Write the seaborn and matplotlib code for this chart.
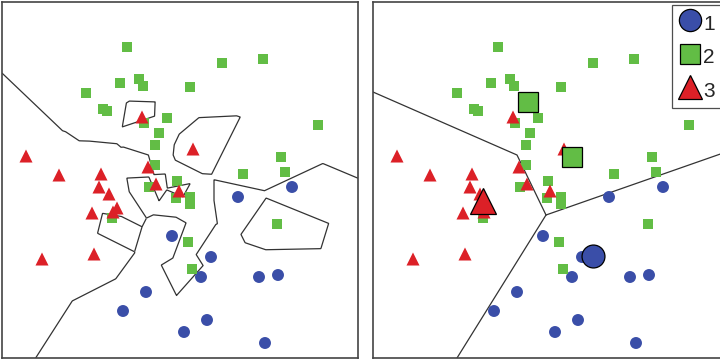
import numpy as np
import pandas as pd
import matplotlib
matplotlib.use("Agg")
import matplotlib.pyplot as plt
from matplotlib.lines import Line2D
import seaborn as sns

# Training samples in the 2-D feature plane (unitless, 0..356 on both axes;
# one class-1 sample lies just right of the visible window)
class1_x = [290, 236, 170, 209, 199, 257, 276, 144, 121, 205, 182, 263, 369]
class1_y = [171, 161, 122, 101, 81, 81, 83, 66, 47, 38, 26, 15, 105]

class2_x = [125, 220, 261, 118, 137, 141, 84, 188, 101, 105, 165, 142, 316, 157,
            153, 279, 153, 283, 241, 175, 147, 174, 188, 188, 110, 186, 275, 190]
class2_y = [311, 295, 299, 275, 279, 272, 265, 271, 249, 247, 240, 235, 233, 225,
            213, 201, 193, 186, 184, 177, 171, 160, 161, 154, 140, 116, 134, 89]

class3_x = [140, 191, 24, 146, 57, 99, 97, 154, 107, 177, 111, 115, 90, 92, 40]
class3_y = [241, 209, 202, 191, 183, 184, 171, 174, 164, 167, 146, 150, 145, 104, 99]

# Class prototypes (nearest-prototype classifier)
proto_x = [220, 155, 199, 110]
proto_y = [102, 256, 201, 157]
proto_cls = ["1", "2", "2", "3"]

# Decision boundary of the prototype classifier (three rays from a junction)
ray_a_x = [0, 144, 173]
ray_a_y = [266, 203, 143]
ray_b_x = [173, 356]
ray_b_y = [143, 207]
ray_c_x = [173, 84]
ray_c_y = [143, 0]

labels = ["1", "2", "3"]
colors = {"1": "#3a4ea8", "2": "#62bd45", "3": "#dc2027"}
markers = {"1": "o", "2": "s", "3": "^"}
small_size = {"1": 74, "2": 62, "3": 88}
big_ms = {"1": 16.5, "2": 14.5, "3": 19}
legend_ms = {"1": 16, "2": 14.5, "3": 17.5}

df = pd.concat([
    pd.DataFrame({"x": class1_x, "y": class1_y, "cls": "1"}),
    pd.DataFrame({"x": class2_x, "y": class2_y, "cls": "2"}),
    pd.DataFrame({"x": class3_x, "y": class3_y, "cls": "3"}),
], ignore_index=True)
protos = pd.DataFrame({"x": proto_x, "y": proto_y, "cls": proto_cls})

sns.set_style("white")
plt.rcParams["font.family"] = ["Liberation Sans", "DejaVu Sans"]

LIM = 356
line_color = "#333333"

fig = plt.figure(figsize=(7.2, 3.61), dpi=100)
ax_l = fig.add_axes([2 / 720, 3 / 361, 356 / 720, 356 / 361])
ax_r = fig.add_axes([373 / 720, 3 / 361, 356 / 720, 356 / 361])


def nearest_neighbour_boundaries(ax, data):
    """Contour the 1-NN decision boundary between every pair of classes."""
    g = np.linspace(0, LIM, 713)
    X, Y = np.meshgrid(g, g)
    dist = {}
    for c in labels:
        sub = data[data["cls"] == c]
        d = np.full(X.shape, np.inf)
        for px, py in zip(sub["x"], sub["y"]):
            d = np.minimum(d, np.hypot(X - px, Y - py))
        dist[c] = d
    for a, b in [("1", "2"), ("1", "3"), ("2", "3")]:
        other = [c for c in labels if c not in (a, b)][0]
        f = dist[a] - dist[b]
        f = np.where(dist[other] < np.minimum(dist[a], dist[b]), np.nan, f)
        ax.contour(X, Y, np.ma.masked_invalid(f), levels=[0],
                   colors=line_color, linewidths=0.9, zorder=1)


def draw_samples(ax):
    for c in labels:
        sub = df[df["cls"] == c]
        sns.scatterplot(data=sub, x="x", y="y", ax=ax, marker=markers[c],
                        s=small_size[c], color=colors[c], edgecolor="none",
                        linewidth=0, legend=False, zorder=3)


# Left panel: 1-nearest-neighbour partition
nearest_neighbour_boundaries(ax_l, df)
draw_samples(ax_l)

# Right panel: nearest-prototype partition
for rx, ry in [(ray_a_x, ray_a_y), (ray_b_x, ray_b_y), (ray_c_x, ray_c_y)]:
    ax_r.plot(rx, ry, color=line_color, lw=0.9, zorder=1)
draw_samples(ax_r)
for _, row in protos.iterrows():
    ax_r.plot(row["x"], row["y"], marker=markers[row["cls"]], ms=big_ms[row["cls"]],
              mfc=colors[row["cls"]], mec="black", mew=0.9, ls="", zorder=5)

handles = [Line2D([], [], ls="", marker=markers[c], ms=legend_ms[c],
                  mfc=colors[c], mec="black", mew=0.9) for c in labels]
leg = ax_r.legend(handles, labels, loc="upper right", bbox_to_anchor=(0.985, 1.0),
                  borderaxespad=0.12, fontsize=15, frameon=True, fancybox=False,
                  edgecolor="#222222", handlelength=1.1, handletextpad=0.1,
                  handleheight=1.4, labelspacing=0.45, borderpad=0.3)
leg.get_frame().set_linewidth(0.9)

for ax in (ax_l, ax_r):
    ax.set_xlim(0, LIM)
    ax.set_ylim(0, LIM)
    ax.set_xticks([])
    ax.set_yticks([])
    ax.set_xlabel("")
    ax.set_ylabel("")
    for sp in ax.spines.values():
        sp.set_color("#444444")
        sp.set_linewidth(1.2)

fig.savefig("out.png", dpi=100)
